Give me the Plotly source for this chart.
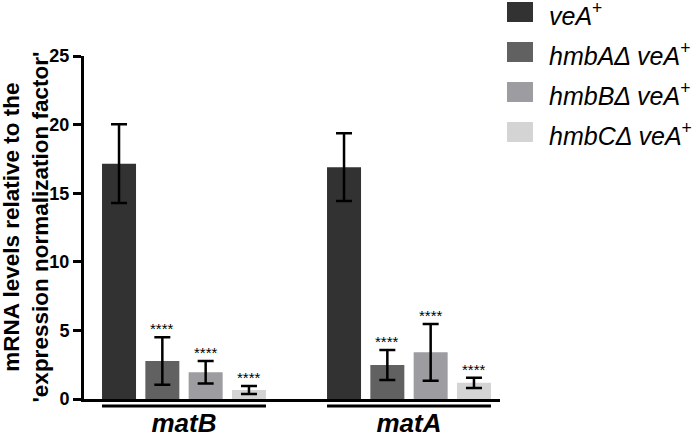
import plotly.graph_objects as go

genes = ["matB", "matA"]
strains = ["veA+", "hmbAΔ veA+", "hmbBΔ veA+", "hmbCΔ veA+"]
legend_labels = ["<i>veA</i><sup>+</sup>", "<i>hmbAΔ veA</i><sup>+</sup>",
                 "<i>hmbBΔ veA</i><sup>+</sup>", "<i>hmbCΔ veA</i><sup>+</sup>"]
means = {
    "veA+": [17.15, 16.9],
    "hmbAΔ veA+": [2.77, 2.48],
    "hmbBΔ veA+": [1.95, 3.4],
    "hmbCΔ veA+": [0.66, 1.18],
}
errors = {
    "veA+": [2.87, 2.47],
    "hmbAΔ veA+": [1.73, 1.1],
    "hmbBΔ veA+": [0.82, 2.07],
    "hmbCΔ veA+": [0.29, 0.37],
}
significance = {
    "veA+": ["", ""],
    "hmbAΔ veA+": ["****", "****"],
    "hmbBΔ veA+": ["****", "****"],
    "hmbCΔ veA+": ["****", "****"],
}
colors = ["#323232", "#616161", "#9d9da1", "#d4d4d4"]
y_ticks = [0, 5, 10, 15, 20, 25]

FONT = "Liberation Sans, Arial, Helvetica, sans-serif"
W, H = 700, 438
ML, MR, MT, MB = 84, 200, 56, 39
PW, PH = W - ML - MR, H - MT - MB
BARGAP, GROUPGAP = 0.23, 0.215


def px_to_paper_x(px):
    return (px - ML) / PW


def px_to_paper_y(py):
    return (H - MB - py) / PH


fig = go.Figure()
for s, c in zip(strains, colors):
    fig.add_trace(go.Bar(
        x=genes, y=means[s], name=s, marker=dict(color=c, line=dict(width=0)),
        error_y=dict(type="data", array=errors[s], color="black", thickness=2.5, width=8),
        showlegend=False,
    ))

slot = (1 - BARGAP) / len(strains)
annotations = []
for j, s in enumerate(strains):
    for i, g in enumerate(genes):
        if significance[s][i]:
            annotations.append(dict(
                x=i + (j - 1.5) * slot, y=means[s][i] + errors[s][i],
                xref="x", yref="y", text=significance[s][i], showarrow=False,
                yanchor="bottom", yshift=-2,
                font=dict(family=FONT, size=15, color="black"),
            ))

shapes = []
half = (1 - BARGAP) / 2 - slot * GROUPGAP / 2
for i, g in enumerate(genes):
    shapes.append(dict(type="line", xref="x", yref="paper",
                       x0=i - half, x1=i + half, y0=-7 / PH, y1=-7 / PH,
                       line=dict(color="black", width=3)))

# manual legend (large swatches)
for k, (lab, c) in enumerate(zip(legend_labels, colors)):
    top = 2 + 40 * k
    shapes.append(dict(type="rect", xref="paper", yref="paper",
                       x0=px_to_paper_x(507), x1=px_to_paper_x(533),
                       y0=px_to_paper_y(top + 20), y1=px_to_paper_y(top),
                       fillcolor=c, line=dict(width=0)))
    annotations.append(dict(x=px_to_paper_x(547), y=px_to_paper_y(top + 12),
                            xref="paper", yref="paper", text=lab, showarrow=False,
                            xanchor="left", yanchor="middle",
                            font=dict(family=FONT, size=25, color="black")))

annotations.append(dict(
    x=px_to_paper_x(25), y=0.5, xref="paper", yref="paper",
    text="mRNA levels relative to the<br>'expression normalization factor'",
    showarrow=False, textangle=-90, xanchor="center", yanchor="middle",
    font=dict(family=FONT, size=22.5, color="black", weight="bold"),
))

fig.update_layout(
    width=W, height=H, margin=dict(l=ML, r=MR, t=MT, b=MB, autoexpand=False),
    plot_bgcolor="white", paper_bgcolor="white",
    barmode="group", bargap=BARGAP, bargroupgap=GROUPGAP,
    annotations=annotations, shapes=shapes,
    xaxis=dict(
        range=[-100 / 225, 316 / 225], showline=True, linecolor="black", linewidth=3,
        ticks="", showgrid=False, zeroline=False, automargin=False,
        tickfont=dict(family=FONT, size=26, color="black", weight="bold", style="italic"),
        ticklabelstandoff=-1,
    ),
    yaxis=dict(
        range=[0, 25], tickvals=y_ticks, showline=True, linecolor="black", linewidth=3,
        ticks="outside", ticklen=8, tickwidth=2.5, tickcolor="black",
        showgrid=False, zeroline=False, automargin=False,
        tickfont=dict(family=FONT, size=18, color="black", weight="bold"),
    ),
)

fig.write_html(
    "out.html",
    config={"displayModeBar": False},
    post_script="document.body.style.margin='0';document.body.style.overflow='hidden';",
)
